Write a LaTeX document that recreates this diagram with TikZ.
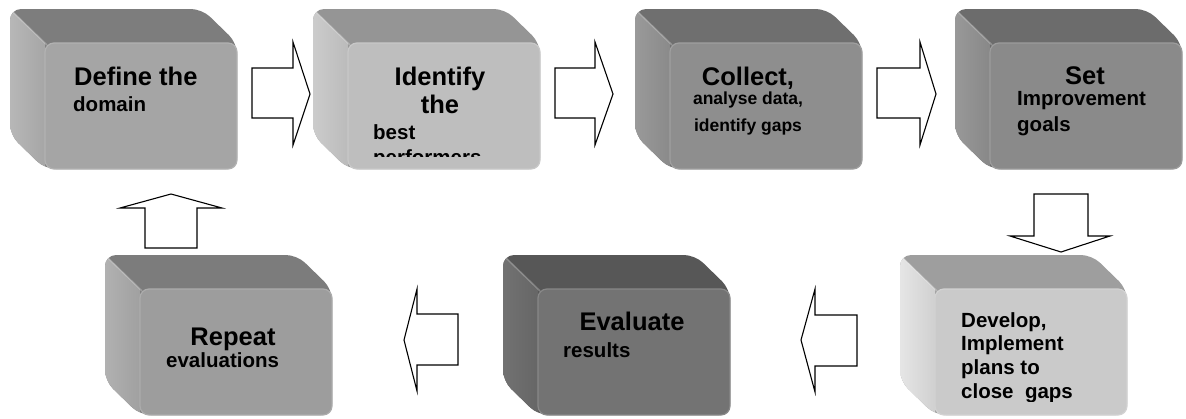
\documentclass[tikz,border=0pt]{standalone}
\usepackage{fontspec}
\setmainfont{Liberation Sans}
% face colours of the seven steps
\definecolor{topA}{HTML}{7D7D7D}\definecolor{sideAo}{HTML}{B8B8B8}\definecolor{sideAi}{HTML}{A6A6A6}\definecolor{frontA}{HTML}{A5A5A5}
\definecolor{topB}{HTML}{959595}\definecolor{sideBo}{HTML}{CCCCCC}\definecolor{sideBi}{HTML}{BBBBBB}\definecolor{frontB}{HTML}{BEBEBE}
\definecolor{topC}{HTML}{6F6F6F}\definecolor{sideCo}{HTML}{9A9A9A}\definecolor{sideCi}{HTML}{8A8A8A}\definecolor{frontC}{HTML}{8E8E8E}
\definecolor{topD}{HTML}{6C6C6C}\definecolor{sideDo}{HTML}{999999}\definecolor{sideDi}{HTML}{888888}\definecolor{frontD}{HTML}{8A8A8A}
\definecolor{topE}{HTML}{9E9E9E}\definecolor{sideEo}{HTML}{E6E6E6}\definecolor{sideEi}{HTML}{D0D0D0}\definecolor{frontE}{HTML}{CACACA}
\definecolor{topF}{HTML}{575757}\definecolor{sideFo}{HTML}{727272}\definecolor{sideFi}{HTML}{666666}\definecolor{frontF}{HTML}{737373}
\definecolor{topG}{HTML}{7C7C7C}\definecolor{sideGo}{HTML}{B2B2B2}\definecolor{sideGi}{HTML}{A0A0A0}\definecolor{frontG}{HTML}{9D9D9D}
\tikzset{
  x=1pt, y=-1pt,
  frontface/.style={rectangle, rounded corners=9pt, minimum width=192pt,
    minimum height=126pt, inner sep=0pt, line width=1.2pt},
  blockarrow/.style={draw=black, fill=white, line width=1.1pt, line join=miter},
  big/.style={inner sep=0pt, font=\bfseries\fontsize{25.5}{28}\selectfont},
  small/.style={inner sep=0pt, font=\bfseries\fontsize{20.5}{23}\selectfont},
  tiny/.style={inner sep=0pt, font=\bfseries\fontsize{17.5}{20}\selectfont},
}
% extruded box: #1 name, #2 front-left x, #3 front-top y, #4 colour set letter
\newcommand\cubebox[4]{%
  \begin{scope}[shift={(#2,#3)}]
    \fill[top#4, rounded corners=11pt] (-35,-34) -- (157,-34) -- (192,0) -- (192,126)
      -- (0,126) -- (-35,92) -- cycle;
    \begin{scope}
      \clip[rounded corners=11pt] (-35,-34) -- (157,-34) -- (192,0) -- (192,126)
        -- (0,126) -- (-35,92) -- cycle;
      \shade[left color=side#4o, right color=side#4i] (-36,-35) -- (0,0) -- (0,127) -- (-36,93) -- cycle;
      \draw[white, opacity=0.25, line width=1.5pt] (-33,-32) -- (2,2);
    \end{scope}
    \node[frontface, fill=front#4, draw=front#4!85!white] (#1) at (96,63) {};
  \end{scope}}
\begin{document}
\begin{tikzpicture}
\useasboundingbox (0,0) rectangle (1186,418);

% top row
\cubebox{define}{45}{43}{A}
\cubebox{identify}{348}{43}{B}
\cubebox{collect}{670}{43}{C}
\cubebox{setgoals}{990}{43}{D}
% bottom row
\cubebox{develop}{935}{289}{E}
\cubebox{evaluate}{538}{289}{F}
\cubebox{repeat}{140}{289}{G}

% labels
\node[big, anchor=base west] (t1a) at (74,85) {Define the};
\node[small, anchor=base west] (t1b) at (73,111) {domain};

\begin{scope}
  \clip (300,0) rectangle (600,156);
  \node[big, anchor=base] (t2a) at (440,85) {Identify};
  \node[big, anchor=base] (t2b) at (440,113) {the};
  \node[small, anchor=base west] (t2c) at (373,139) {best};
  \node[small, anchor=base west] (t2d) at (373,164) {performers};
\end{scope}

\node[big, anchor=base] (t3a) at (748,85) {Collect,};
\node[tiny, anchor=base] (t3b) at (748,104) {analyse data,};
\node[tiny, anchor=base] (t3c) at (748,131) {identify gaps};

\node[big, anchor=base] (t4a) at (1085,84) {Set};
\node[small, anchor=base west] (t4b) at (1017,105) {Improvement};
\node[small, anchor=base west] (t4c) at (1017,131) {goals};

\begin{scope}
  \clip (900,250) rectangle (1186,401);
  \node[small, anchor=base west] (t5a) at (961,327) {Develop,};
  \node[small, anchor=base west] (t5b) at (961,350) {Implement};
  \node[small, anchor=base west] (t5c) at (961,374) {plans to};
  \node[small, anchor=base west] (t5d) at (961,398) {close\ \ gaps};
\end{scope}

\node[big, anchor=base] (t6a) at (632,330) {Evaluate};
\node[small, anchor=base west] (t6b) at (563,357) {results};

\node[big, anchor=base] (t7a) at (233,345) {Repeat};
\node[small, anchor=base west] (t7b) at (166,367) {evaluations};

% block arrows between the steps
\draw[blockarrow] (252,68) -- (293,68) -- (293,42) -- (310,94) -- (293,145) -- (293,118) -- (252,118) -- cycle;
\draw[blockarrow] (555,68) -- (595,68) -- (595,42) -- (613,94) -- (595,145) -- (595,118) -- (555,118) -- cycle;
\draw[blockarrow] (877,68) -- (920,68) -- (920,42) -- (936,94) -- (920,145) -- (920,118) -- (877,118) -- cycle;
\draw[blockarrow] (1034,194) -- (1088,194) -- (1088,236) -- (1110,236) -- (1061,252) -- (1010,236) -- (1034,236) -- cycle;
\draw[blockarrow] (857,315) -- (815,315) -- (815,289) -- (801,340) -- (815,392) -- (815,366) -- (857,366) -- cycle;
\draw[blockarrow] (458,314) -- (417,314) -- (417,289) -- (404,340) -- (417,391) -- (417,365) -- (458,365) -- cycle;
\draw[blockarrow] (145,248) -- (145,208) -- (120,208) -- (171,194) -- (222,208) -- (197,208) -- (197,248) -- cycle;
\end{tikzpicture}
\end{document}
